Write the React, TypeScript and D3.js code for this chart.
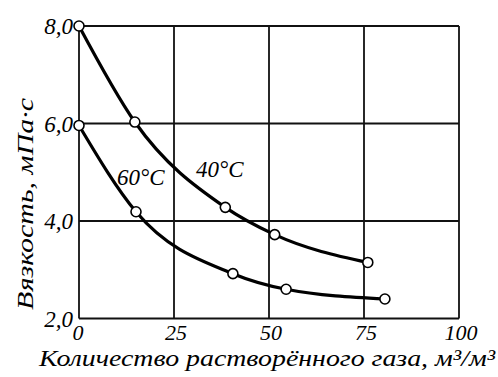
import React from "react";
import * as d3 from "d3";

const xTicks = [0, 25, 50, 75, 100];
const yTicks = [2, 4, 6, 8];
const yTickLabels = ["2,0", "4,0", "6,0", "8,0"];

const gas40 = [0, 14.7, 38.5, 51.5, 76];
const visc40 = [8.0, 6.03, 4.28, 3.72, 3.15];
const gas60 = [0, 15, 40.5, 54.5, 80.5];
const visc60 = [5.96, 4.19, 2.92, 2.6, 2.4];

const seriesLabels = ["40°C", "60°C"];
const xTitle = "Количество растворённого газа, м³/м³";
const yTitle = "Вязкость, мПа·с";

const W = 498;
const H = 377;
const FONT = "'Liberation Serif', 'Times New Roman', serif";

export default function App() {
  const x = d3.scaleLinear().domain([0, 100]).range([79, 459]);
  const y = d3.scaleLinear().domain([2, 8]).range([318.5, 26]);

  const line = d3
    .line<[number, number]>()
    .x((d) => x(d[0]))
    .y((d) => y(d[1]))
    .curve(d3.curveMonotoneX);

  const s40: [number, number][] = gas40.map((g, i) => [g, visc40[i]]);
  const s60: [number, number][] = gas60.map((g, i) => [g, visc60[i]]);

  return (
    <svg
      width={W}
      height={H}
      style={{ position: "fixed", left: 0, top: 0, background: "#fff" }}
      fontFamily={FONT}
      fontStyle="italic"
    >
      <rect x={0} y={0} width={W} height={H} fill="#fff" />
      {xTicks.map((t) => (
        <line key={"gx" + t} x1={x(t)} x2={x(t)} y1={y(8)} y2={y(2)} stroke="#111" strokeWidth={1.8} />
      ))}
      {yTicks.map((t) => (
        <line key={"gy" + t} x1={x(0)} x2={x(100)} y1={y(t)} y2={y(t)} stroke="#111" strokeWidth={1.8} />
      ))}
      <path d={line(s40) || ""} fill="none" stroke="#000" strokeWidth={3.2} />
      <path d={line(s60) || ""} fill="none" stroke="#000" strokeWidth={3.2} />
      {[...s40, ...s60].map((d, i) => (
        <circle key={"m" + i} cx={x(d[0])} cy={y(d[1])} r={5} fill="#fff" stroke="#000" strokeWidth={1.6} />
      ))}
      {yTicks.map((t, i) => (
        <text key={"yl" + t} x={x(0) - 6} y={y(t) + 8} textAnchor="end" fontSize={23} fill="#000">
          {yTickLabels[i]}
        </text>
      ))}
      {xTicks.map((t) => (
        <text key={"xl" + t} x={x(t) + (t === 0 ? -1 : 2)} y={340} textAnchor="middle" fontSize={22} fill="#000">
          {t}
        </text>
      ))}
      <text x={196} y={177} fontSize={23} fill="#000">{seriesLabels[0]}</text>
      <text x={117} y={185} fontSize={23} fill="#000">{seriesLabels[1]}</text>
      <text x={39} y={366} fontSize={23} fill="#000" textLength={456} lengthAdjust="spacingAndGlyphs">
        {xTitle}
      </text>
      <text
        transform={`translate(33, 204) rotate(-90)`}
        textAnchor="middle"
        fontSize={24}
        fill="#000"
        textLength={212}
        lengthAdjust="spacingAndGlyphs"
      >
        {yTitle}
      </text>
    </svg>
  );
}
